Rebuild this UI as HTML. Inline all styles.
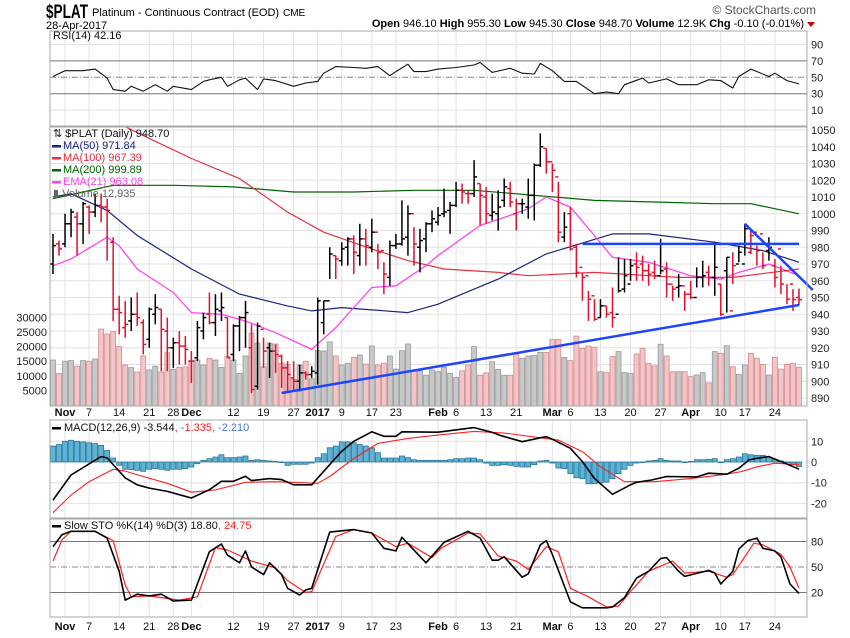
<!DOCTYPE html>
<html><head><meta charset="utf-8"><title>$PLAT chart</title>
<style>
html,body{margin:0;padding:0;background:#fff;}
svg text{font-family:"Liberation Sans",sans-serif;}
</style></head>
<body>
<svg id="chart" width="850" height="633" viewBox="0 0 850 633" xmlns="http://www.w3.org/2000/svg">
<rect x="0" y="0" width="850" height="633" fill="#fff"/>
<g>
<text x="46" y="18" font-size="19" font-weight="bold" textLength="42" lengthAdjust="spacingAndGlyphs">$PLAT</text>
<text x="92" y="16" font-size="11">Platinum - Continuous Contract (EOD)</text>
<text x="283" y="16" font-size="10">CME</text>
<text x="46" y="29" font-size="11">28-Apr-2017</text>
<text x="816" y="14" font-size="12" fill="#555" text-anchor="end">© StockCharts.com</text>
<text x="804" y="27" font-size="11" text-anchor="end"><tspan font-weight="bold">Open</tspan> 946.10 <tspan font-weight="bold">High</tspan> 955.30 <tspan font-weight="bold">Low</tspan> 945.30 <tspan font-weight="bold">Close</tspan> 948.70 <tspan font-weight="bold">Volume</tspan> 12.9K <tspan font-weight="bold">Chg</tspan> -0.10 (-0.01%)</text>
<path d="M807 22 L815 22 L811 27 Z" fill="#c00"/>
</g>
<defs>
<clipPath id="clipPrice"><rect x="50" y="127" width="757" height="279"/></clipPath>
<clipPath id="clipMacd"><rect x="50" y="420" width="757" height="98"/></clipPath>
<clipPath id="clipSto"><rect x="50" y="519" width="757" height="98"/></clipPath>
</defs>
<g id="grid"></g>
<g id="marks"></g>
<g id="frames"></g>
<g id="labels"></g>
</svg>
<script>
// ---- data ----
const tickIdx = [2,6,11,16,20,23,30,35,40,44,48,53,57,64,67,72,77,83,86,91,96,101,106,111,115,120];
const tickLbl = ['Nov','7','14','21','28','Dec','12','19','27','2017','9','17','23','Feb','6','13','21','Mar','6','13','20','27','Apr','10','17','24'];
const tickBold = [1,0,0,0,0,1,0,0,0,1,0,0,0,1,0,0,0,1,0,0,0,0,1,0,0,0];
const priceTicks = [1050,1040,1030,1020,1010,1000,990,980,970,960,950,940,930,920,910,900,890];
const volTicks = [30000,25000,20000,15000,10000,5000];
const rsiTicks = [90,70,50,30,10];
const macdTicks = [10,0,-10,-20];
const stoTicks = [80,50,20];

const opens = [970,982,982,994,998,994,1004,1001,1005,1004,983,943,932,936,940,935,925,940,943,930,920,923,921,912,914,930,940,935,942,938,916,933,938,920,897,931,920,918,915,908,902,900,905,904,905,935,948,975,972,980,985,975,985,980,989,978,962,981,982,986,1000,980,985,994,995,1000,1002,1005,1014,1012,1012,1018,1010,999,1000,1008,1015,1000,1006,1004,1011,1029,1039,1031,1022,986,1000,980,968,963,951,938,945,941,940,955,958,970,970,966,965,963,967,958,956,957,952,950,962,965,962,958,966,942,970,970,977,989,988,978,969,979,966,958,950,946.1];
const highs = [988,984,1000,1003,1001,1007,1005,1012,1012,1009,986,951,948,950,953,937,944,952,943,938,926,930,927,918,936,941,953,952,953,938,934,939,948,934,935,926,923,922,916,912,912,910,906,909,950,948,980,975,983,986,987,994,991,997,982,971,984,988,1008,1005,992,991,995,1002,1004,1015,1007,1019,1018,1014,1032,1018,1016,1012,1014,1021,1019,1009,1009,1021,1030,1048,1039,1030,1019,1001,1004,982,965,954,949,949,945,956,974,973,973,977,975,970,972,985,971,957,964,954,960,968,972,969,983,958,974,977,981,994,990,981,977,986,973,969,958,955,955.3];
const lows = [964,975,980,986,975,982,988,998,995,972,936,928,926,930,933,916,920,934,906,906,908,910,910,899,912,925,934,927,936,914,912,918,920,893,895,908,902,905,896,894,894,894,901,902,898,928,961,961,969,969,964,969,969,977,967,952,957,979,981,975,969,965,977,989,993,998,988,1004,1006,1006,1010,993,994,996,990,1004,1004,990,1000,997,996,1028,1024,1013,983,983,978,962,948,936,936,938,938,932,953,953,960,960,960,957,961,964,950,948,950,942,949,956,956,957,951,939,941,958,971,975,976,969,967,972,956,952,946,942,945.3];
const closes = [981,979,994,1001,994,1006,1001,1005,1004,1002,943,941,934,940,938,922,943,944,931,920,923,921,919,912,932,938,935,943,944,914,933,938,941,895,933,918,918,916,908,904,900,905,904,906,948,948,976,973,979,985,977,985,981,989,977,964,981,982,985,1000,982,984,994,997,999,1001,1005,1014,1013,1012,1022,1011,1000,1001,1004,1016,1007,1006,1006,1011,1029,1040,1031,1026,989,992,979,965,962,949,937,945,940,938,954,963,969,968,966,964,963,966,958,955,957,952,950,962,963,962,968,940,974,969,977,991,987,978,969,980,962,958,949,948.8,948.7];
const volumes = [15400,10800,15000,15200,13300,15200,15000,15800,26000,24300,25100,20000,13700,12800,11300,16800,12000,13300,11300,17900,12200,12900,13100,15200,15400,13700,16000,15400,12900,16600,15400,10800,16800,24600,21200,13100,21200,20900,14300,13900,8800,13700,15000,9000,18700,18500,21600,16800,13700,14300,16300,17100,14000,20200,13700,14300,16800,12300,18600,20900,12000,11700,10200,12000,11400,12900,10800,9400,11700,13700,20000,10200,11000,14800,12200,10200,10200,17400,16000,16800,17000,18000,18000,22500,22500,16300,15200,23600,19400,20200,19800,11400,11100,16600,18300,11100,10800,17500,19400,14300,13400,20800,16800,11400,11400,11400,9700,10300,11100,7600,18300,17700,20300,13100,10500,13700,17700,16000,13900,10300,16300,12300,13900,14300,12935];

const ma50Idx = [0,3,9,14,23,31,39,43,48,59,64,74,82,93,99,110,118,124];
const ma50Val = [1010,1012,1002,987,967,952,945,942,944,941,946,961,976,988,988,983,978,971];
const ma100Idx = [0,8,12,16,23,31,39,45,53,59,65,74,79,90,104,113,124];
const ma100Val = [1075,1060,1052,1045,1033,1021,1001,989,979,972,967,965,963,965,962,962,967];
const ma200Idx = [0,5,10,20,30,40,50,60,70,80,90,100,110,116,120,124];
const ma200Val = [1009,1013,1017,1017,1016,1013,1013,1014,1014,1011,1008,1007,1006,1006,1003,1000];
const emaIdx = [0,3,9,11,14,20,23,28,32,37,43,47,53,57,62,64,71,76,79,82,86,90,93,99,106,111,114,119,124];
const emaVal = [969,973,986,981,967,953,941,940,936,929,919,932,956,957,969,975,993,999,1003,1010,1004,987,974,971,963,961,965,970,963];

const trendIdxA = [38,124]; const trendValA = [893,945.5];
const trendIdxB = [88,124]; const trendValB = [982,982];
const trendIdxC = [115,126.3]; const trendValC = [994,954.5];

const rsiIdx = [0,2,5,7,9,10,12,13,15,17,19,20,23,25,26,28,29,31,32,34,35,37,40,42,44,45,47,50,52,54,56,57,59,60,62,64,67,70,71,73,76,78,80,81,83,85,87,90,92,94,95,98,99,102,104,107,109,111,113,114,116,119,120,122,124];
const rsiVal = [51,58,58,60,49,35,33,39,33,41,33,39,35,45,47,50,39,47,49,35,48,46,39,43,45,55,63,62,61,63,52,57,66,57,57,60,62,65,68,56,61,55,54,67,58,45,45,30,32,30,41,49,43,48,41,41,47,46,37,51,60,51,55,46,42];

const macdIdx = [0,3,8,9,12,14,16,19,21,23,26,28,30,32,33,36,38,40,43,45,48,50,53,55,57,58,64,70,73,74.5,78,81,82,83,86,88,90,93,96,97,99.5,102,107,109,112,114,115.7,117,119,121.7,124];
const macdVal = [-18.4,-6.3,2.6,2,-7.7,-11,-12.6,-14.2,-15.8,-17.4,-13.4,-9.3,-9.3,-6.9,-9,-8,-8.5,-11,-11,-4.5,5.2,10,14.6,12.4,12.4,14.6,14.4,16.6,14.3,12.7,9.8,11.7,12.2,11,6.6,0.2,-7.9,-15.6,-11,-9.8,-8.7,-7,-7.2,-5.4,-5.9,-3,1,1.8,2.6,-0.6,-3.5];
const signalIdx = [0,3,6,10,12,15,19,23,27,32,37,44,46,50,54,59,64.5,70,75,81,84,88,91,95,100,106,112,114.5,117,120,124];
const signalVal = [-24.5,-16,-9.5,-3.5,-4.4,-7,-10.3,-14.6,-13.5,-9.8,-9.5,-10.3,-7,1.7,9,11.4,13.2,14.8,14,11.7,10.6,5,-2.3,-9.5,-9.5,-8,-5.9,-4.6,-2.3,-0.6,-1.3];
const histVal = [7.7,8.4,10,10.5,10,9.7,9.3,8.9,8,5.6,1.9,-1.6,-3.5,-3.7,-4,-4.5,-3.5,-3.2,-3.5,-4,-3.5,-3.5,-3.2,-2.4,-0.8,0.8,1.6,2.4,3.5,2.1,2.1,2.4,2.9,0.8,1.1,0.8,0.5,0.3,0,-1.6,-1.1,-1.1,-1.1,-0.5,2.1,4,6.9,7.7,9.7,9.7,9.3,8.4,7.7,6.8,4.5,1.9,1.9,1.9,2.9,2.1,1.1,0.8,0.8,0.8,0.8,0.8,1.1,1.6,1.6,1.9,1.9,1.1,-0.5,-1.6,-1.6,-1.3,-1.6,-2.1,-2.4,-2.4,-1.3,0.5,0.8,-0.5,-2.9,-3.2,-5.6,-7.6,-8,-10.5,-10.5,-10.1,-9.7,-8,-5.6,-3.5,-1.6,-0.5,0,0.5,0.8,1.6,0.8,0.5,0.5,0,0.3,1.1,1.1,1.3,1.6,0,1.1,1.6,2.4,4,3.5,3.2,3.2,2.4,1.3,0.5,0,-1.3,-2.2];

const stoKIdx = [0,1.5,3,7,9,11,12,14,16,18,20,23,26,28,29,31,32,33,35,36,38,39,41,42,43,46,50,53,55,57,58,62,65,69,71,73,74,75,78,79,81,82,83,86,88,92,93,95,97,99,101,102,104,105,109,110,111,113,114,115.5,117,118,120,121,122.5,124];
const stoKVal = [74,88,92,92,84,45,11,18,16,18,10,11,68,77,64,55,69,50,41,55,41,25,17,23,25,91,94,90,72,69,85,55,79,92,84,58,58,62,38,42,76,81,65,9,2,2,3,14,37,45,60,61,45,39,46,43,30,45,71,81,84,72,69,62,30,19];
const stoDIdx = [0,1.5,3,7,10,12,13,16,21,24,27,29,33,37,39,42,43,47,50,53,57,59,63,64.5,69,71,74,77,79,82,84,86,89,92,94,96,99,103,105,109,112,113,116.5,118,121,122.5,124];
const stoDVal = [57,82,92,92,81,29,15,16,11,15,73,70,57,49,34,20,21,86,94,90,74,78,61,72,90,89,63,57,47,74,68,25,15,3,4,21,45,57,43,45,38,41,78,76,65,50,25];

// ---- scales ----
const X = i => 53 + i * 6.016;
const PY = v => 130 + (1050 - v) * 1.675;
const VY = v => 405 - v * 0.00292;
const RY = v => 77.3 - (v - 50) * 0.82;
const MY = v => 462 - v * 2.07;
const SY = v => 567 - (v - 50) * 0.85;

const NS = 'http://www.w3.org/2000/svg';
function mk(tag, attrs, parent) {
  const e = document.createElementNS(NS, tag);
  for (const k in attrs) e.setAttribute(k, attrs[k]);
  parent.appendChild(e);
  return e;
}
const grid = document.getElementById('grid');
const marks = document.getElementById('marks');
const frames = document.getElementById('frames');
const labels = document.getElementById('labels');

const L = 50, R = 807;
const panels = [
  {name:'rsi-panel', top:31, bot:126},
  {name:'price-panel', top:127, bot:406},
  {name:'macd-panel', top:420, bot:518},
  {name:'sto-panel', top:519, bot:617}
];

panels.forEach(p => {
  tickIdx.forEach(ti => {
    const ln = mk('line', {x1:X(ti), x2:X(ti), y1:p.top, y2:p.bot, stroke:'#e2e2e2', 'stroke-width':1}, grid);
    
    
  });
});

function hgrid(vals, yf, color, dash, w) {
  vals.forEach(v => {
    const a = {x1:L, x2:R, y1:yf(v), y2:yf(v), stroke:color, 'stroke-width':w||1};
    if (dash) a['stroke-dasharray'] = dash;
    const ln = mk('line', a, grid);
    
    
  });
}
hgrid([90,10], RY, '#e2e2e2');
hgrid([70,30], RY, '#777');
hgrid([50], RY, '#888', '6,2,1,2');
hgrid(priceTicks, PY, '#e2e2e2');
hgrid(macdTicks, MY, '#e2e2e2');
hgrid([80,20], SY, '#777');
hgrid([50], SY, '#888', '6,2,1,2');

function rlabels(vals, yf, nm) {
  vals.forEach(v => {
    const t = mk('text', {x:811, y:yf(v)+4, 'font-size':11, fill:'#222'}, labels);
    t.textContent = String(v);
    
    
  });
}
rlabels(rsiTicks, RY, 'rsi-axis-label');
rlabels(priceTicks, PY, 'price-axis-label');
rlabels(macdTicks, MY, 'macd-axis-label');
rlabels(stoTicks, SY, 'sto-axis-label');
volTicks.forEach(v => {
  const t = mk('text', {x:47, y:VY(v)+4, 'font-size':11, fill:'#222', 'text-anchor':'end'}, labels);
  t.textContent = String(v);
  
  
});
[412, 626].forEach(y => {
  tickIdx.forEach((ti, k) => {
    const t = mk('text', {x:X(ti), y:y+4, 'font-size':11, fill:'#111', 'text-anchor':'middle', 'font-weight':tickBold[k]?'bold':'normal'}, labels);
    t.textContent = tickLbl[k];
    
    
  });
});

const gPrice = mk('g', {'clip-path':'url(#clipPrice)'}, marks);


volumes.forEach((v, i) => {
  const down = i > 0 && closes[i] < closes[i-1];
  const r = mk('rect', {x:X(i)-2.5, y:VY(v), width:5, height:405-VY(v)+1,
    fill: down ? '#f0c6c8' : '#c8c8c8', stroke: down ? '#d88a8e' : '#9a9a9a', 'stroke-width':0.8}, gPrice);
  
  
});

function poly(idx, vals, xf, yf, color, w, parent, nm) {
  const pts = idx.map((ix, k) => X(ix).toFixed(1) + ',' + yf(vals[k]).toFixed(1)).join(' ');
  const p = mk('polyline', {points:pts, fill:'none', stroke:color, 'stroke-width':w, 'stroke-linejoin':'round'}, parent);
  
  
  return p;
}
poly(ma200Idx, ma200Val, X, PY, '#006400', 1.2, gPrice, 'ma200-line');
poly(ma100Idx, ma100Val, X, PY, '#e83040', 1.2, gPrice, 'ma100-line');
poly(ma50Idx, ma50Val, X, PY, '#1a237e', 1.2, gPrice, 'ma50-line');
poly(emaIdx, emaVal, X, PY, '#ff44ee', 1.3, gPrice, 'ema21-line');

closes.forEach((c, i) => {
  const down = i > 0 && c < closes[i-1];
  const col = down ? '#e0102e' : '#000';
  const g = mk('g', {stroke:col, 'stroke-width':1.5}, gPrice);
  
  
  const x = X(i);
  mk('line', {x1:x, x2:x, y1:PY(highs[i]), y2:PY(lows[i])}, g);
  const o = opens[i] !== undefined ? opens[i] : c;
  mk('line', {x1:x-3, x2:x, y1:PY(o), y2:PY(o)}, g);
  mk('line', {x1:x, x2:x+3, y1:PY(c), y2:PY(c)}, g);
});

poly(trendIdxA, trendValA, X, PY, '#1f44ff', 2.5, marks, 'support-trendline');
poly(trendIdxB, trendValB, X, PY, '#1f44ff', 2.5, marks, 'resistance-line');
poly(trendIdxC, trendValC, X, PY, '#1f44ff', 2.5, marks, 'down-trendline');

poly(rsiIdx, rsiVal, X, RY, '#111', 1.1, marks, 'rsi-line');

const gM = mk('g', {'clip-path':'url(#clipMacd)'}, marks);


histVal.forEach((v, i) => {
  const y0 = MY(0), y1 = MY(v);
  const r = mk('rect', {x:X(i)-2.5, y:Math.min(y0,y1), width:5, height:Math.max(Math.abs(y1-y0),0.6),
    fill:'#5ab4d8', stroke:'#2a7296', 'stroke-width':0.8}, gM);
  
  
});
poly(signalIdx, signalVal, X, MY, '#ff2020', 1.1, gM, 'macd-signal-line');
poly(macdIdx, macdVal, X, MY, '#000', 1.6, gM, 'macd-line');

const gS = mk('g', {'clip-path':'url(#clipSto)'}, marks);


poly(stoDIdx, stoDVal, X, SY, '#ff2020', 1.2, gS, 'sto-d-line');
poly(stoKIdx, stoKVal, X, SY, '#000', 1.6, gS, 'sto-k-line');

panels.forEach(p => {
  const r = mk('rect', {x:L, y:p.top, width:R-L, height:p.bot-p.top, fill:'none', stroke:'#a8a8a8', 'stroke-width':1}, frames);
  
  
});

function legendText(x, y, parts, nm) {
  const t = mk('text', {x:x, y:y, 'font-size':11, 'font-family':'DejaVu Sans, sans-serif'}, labels);
  
  
  parts.forEach(pt => {
    const s = mk('tspan', {fill:pt[1]}, t);
    s.textContent = pt[0];
  });
}
function legendSwatch(x, y, color, nm) {
  const r = mk('rect', {x:x, y:y-4, width:9, height:2.5, fill:color}, labels);
  
  
}
legendText(53, 39, [['RSI(14) 42.16','#111']], 'rsi-legend');
legendText(53, 137, [['⇅ $PLAT (Daily) 948.70','#111']], 'price-legend');
const maLeg = [['MA(50) 971.84','#1a237e'],['MA(100) 967.39','#e83040'],['MA(200) 999.89','#006400'],['EMA(21) 963.08','#ff44ee']];
maLeg.forEach((m, k) => {
  legendSwatch(52, 149 + k*12, m[1], 'legend-swatch');
  legendText(63, 149 + k*12, [[m[0], m[1]]], 'ma-legend-entry');
});
legendText(53, 197, [['▮ Volume 12,935','#666']], 'volume-legend');
legendSwatch(52, 431, '#000', 'legend-swatch');
legendText(64, 431, [['MACD(12,26,9) -3.544','#111'],[', -1.335','#ff2020'],[', -2.210','#4a7ad8']], 'macd-legend');
legendSwatch(52, 529, '#000', 'legend-swatch');
legendText(64, 529, [['Slow STO %K(14) %D(3) 18.80','#111'],[', 24.75','#ff2020']], 'sto-legend');
</script>
</body></html>
